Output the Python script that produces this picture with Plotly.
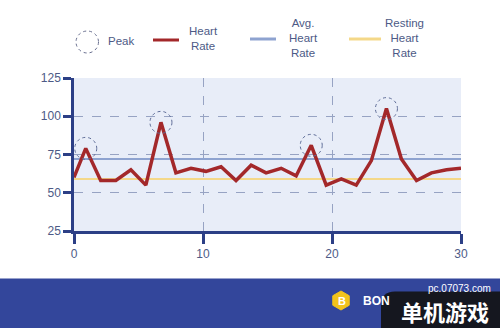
import math
import plotly.graph_objects as go

# Heart-rate samples over a 30-minute window
minutes = [0, 0.91, 2.07, 3.24, 4.41, 5.57, 6.74, 7.9, 9.07, 10.23, 11.4, 12.56, 13.73,
           14.89, 16.06, 17.22, 18.39, 19.55, 20.72, 21.88, 23.05, 24.22, 25.38, 26.55,
           27.71, 28.88, 30]
heart_rate = [60, 79, 58, 58, 65, 55, 96, 63, 66, 64, 67, 58, 68, 63, 66, 61, 81, 55,
              59, 55, 71, 105, 72, 58, 63, 65, 66]
avg_heart_rate = 72
resting_heart_rate = 59
peak_index = [1, 6, 16, 21]

x_ticks = [0, 10, 20, 30]
y_ticks = [25, 50, 75, 100, 125]

legend_labels = ["Peak", "Heart<br>Rate", "Avg.<br>Heart<br>Rate", "Resting<br>Heart<br>Rate"]

# colours
RED = "#a3282a"
AVG_BLUE = "#8ea3d0"
REST_YELLOW = "#f4d889"
NAVY = "#2c3f86"
GRID = "#97a3c3"
TEXT = "#4d5a86"
PLOT_BG = "#e8edf8"
FOOTER = "#33469b"

# figure geometry (pixels)
FIG_W, FIG_H = 500, 328
M_L, M_R, M_T, M_B = 74, 39, 78, 97
PW = FIG_W - M_L - M_R
PH = FIG_H - M_T - M_B


def px(xp):
    """pixel column -> paper x"""
    return (xp - M_L) / PW


def py(yp):
    """pixel row (from top) -> paper y"""
    return (M_T + PH - yp) / PH


fig = go.Figure()

fig.add_trace(go.Scatter(x=[minutes[0], minutes[-1]], y=[resting_heart_rate] * 2,
                         mode="lines", line=dict(color=REST_YELLOW, width=2),
                         showlegend=False, hoverinfo="skip"))
fig.add_trace(go.Scatter(x=[minutes[0], minutes[-1]], y=[avg_heart_rate] * 2,
                         mode="lines", line=dict(color=AVG_BLUE, width=2),
                         showlegend=False, hoverinfo="skip"))
fig.add_trace(go.Scatter(x=minutes, y=heart_rate, mode="lines",
                         line=dict(color=RED, width=3.5), showlegend=False))

shapes = []
# dotted rings around the peaks
for i in peak_index:
    shapes.append(dict(type="circle", xref="x", yref="y", xsizemode="pixel",
                       ysizemode="pixel", xanchor=minutes[i], yanchor=heart_rate[i],
                       x0=-11, x1=11, y0=-11, y1=11,
                       line=dict(color="#5f6d98", width=1, dash="dot"), layer="above"))

# legend drawn by hand
shapes.append(dict(type="circle", xref="paper", yref="paper",
                   x0=px(76), x1=px(98.5), y0=py(53), y1=py(31),
                   line=dict(color="#6a7090", width=1, dash="dot")))
for x0, x1, color in [(153, 179, RED), (250, 276, AVG_BLUE), (349, 381, REST_YELLOW)]:
    yline = 40 if color == RED else 39
    shapes.append(dict(type="line", xref="paper", yref="paper",
                       x0=px(x0), x1=px(x1), y0=py(yline), y1=py(yline),
                       line=dict(color=color, width=3)))

# footer band
shapes.append(dict(type="rect", xref="paper", yref="paper", x0=px(0), x1=px(FIG_W),
                   y0=py(FIG_H), y1=py(278.5), fillcolor=FOOTER, line=dict(width=0),
                   layer="below"))
# logo hexagon
cx, cy, r = 341, 300.5, 9.5
hex_pts = [(cx + r * math.cos(math.radians(90 + 60 * k)),
            cy - r * math.sin(math.radians(90 + 60 * k))) for k in range(6)]
hex_path = "M " + " L ".join(f"{px(a):.5f},{py(b):.5f}" for a, b in hex_pts) + " Z"
shapes.append(dict(type="path", xref="paper", yref="paper", path=hex_path,
                   fillcolor="#f2c31c", line=dict(color="#f2c31c", width=1)))
# dark badge
bx0, by0, bx1, by1, rr = 381, 291.5, FIG_W, FIG_H, 14
badge = (f"M {px(bx0)},{py(by1)} L {px(bx0)},{py(by0 + rr)} "
         f"Q {px(bx0)},{py(by0)} {px(bx0 + rr)},{py(by0)} "
         f"L {px(bx1)},{py(by0)} L {px(bx1)},{py(by1)} Z")
shapes.append(dict(type="path", xref="paper", yref="paper", path=badge,
                   fillcolor="#15171f", line=dict(width=0)))

annotations = []
legend_pos = [(106, 41, "left"), (203, 38.5, "center"), (303, 38, "center"),
              (404, 38, "center")]
for label, (xa, ya, al) in zip(legend_labels, legend_pos):
    annotations.append(dict(text=label, xref="paper", yref="paper", x=px(xa), y=py(ya),
                            xanchor=al, yanchor="middle", showarrow=False, align="center",
                            font=dict(family="Liberation Sans, Arial", size=11.5,
                                      color=TEXT)))

annotations += [
    dict(text="<b>B</b>", xref="paper", yref="paper", x=px(341.5), y=py(300.5),
         xanchor="center", yanchor="middle", showarrow=False,
         font=dict(family="Liberation Sans", size=11, color="white")),
    dict(text="<b>BON</b>", xref="paper", yref="paper", x=px(361), y=py(300.5),
         xanchor="left", yanchor="middle", showarrow=False,
         font=dict(family="Liberation Sans", size=12, color="white")),
    dict(text="pc.07073.com", xref="paper", yref="paper", x=px(493), y=py(288),
         xanchor="right", yanchor="middle", showarrow=False,
         font=dict(family="Liberation Sans", size=10, color="white")),
    dict(text="<b>单机游戏</b>", xref="paper", yref="paper", x=px(445), y=py(310.5),
         xanchor="center", yanchor="middle", showarrow=False,
         font=dict(family="Noto Sans CJK SC", size=22, color="white")),
]

fig.update_layout(
    width=FIG_W, height=FIG_H,
    margin=dict(l=M_L, r=M_R, t=M_T, b=M_B, autoexpand=False),
    paper_bgcolor="white", plot_bgcolor=PLOT_BG,
    shapes=shapes, annotations=annotations, showlegend=False,
    font=dict(family="Liberation Sans, Arial", color=TEXT, size=12),
)
fig.update_xaxes(range=[0, 30], tickvals=x_ticks, showgrid=True, gridcolor=GRID,
                 griddash="dash", gridwidth=1, zeroline=False, showline=True,
                 linecolor=NAVY, linewidth=2.5, ticks="outside", ticklen=10,
                 tickwidth=3, tickcolor=NAVY, tickfont=dict(size=12, color=TEXT))
fig.update_yaxes(range=[25, 125], tickvals=y_ticks, showgrid=True, gridcolor=GRID,
                 griddash="dash", gridwidth=1, zeroline=False, showline=True,
                 linecolor=NAVY, linewidth=2.5, ticks="outside", ticklen=8,
                 tickwidth=3, tickcolor=NAVY, tickfont=dict(size=12, color=TEXT))

fig.write_html("out.html")
